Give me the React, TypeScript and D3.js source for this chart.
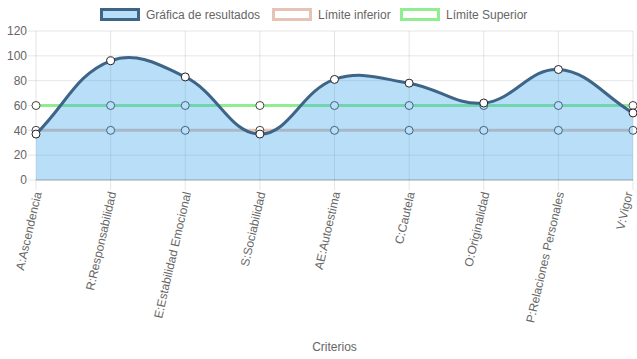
import { useMemo } from "react";
import * as d3 from "d3";

const categories = [
  "A:Ascendencia",
  "R:Responsabilidad",
  "E:Estabilidad Emocional",
  "S:Sociabilidad",
  "AE:Autoestima",
  "C:Cautela",
  "O:Originalidad",
  "P:Relaciones Personales",
  "V:Vigor",
];
const resultados = [37, 96, 83, 37, 81, 78, 62, 89, 54];
const limiteInferior = [40, 40, 40, 40, 40, 40, 40, 40, 40];
const limiteSuperior = [60, 60, 60, 60, 60, 60, 60, 60, 60];
const yTicks = [0, 20, 40, 60, 80, 100, 120];

const WIDTH = 637;
const HEIGHT = 359;
const LEFT = 36;
const RIGHT = 633;
const TOP = 31;
const BOTTOM = 180;
const FONT = "'Liberation Sans', Arial, sans-serif";
const TEXT = "#666";

const RES_STROKE = "#3e6488";
const RES_FILL = "rgba(54,162,235,0.35)";
const LOW_COLOR = "#e5c4b5";
const UP_COLOR = "#90ee90";

type Pt = [number, number];

// same bezier control points as chart.js (tension 0.4, capped to chart area)
function splinePath(pts: Pt[], t: number, close?: number) {
  const clampY = (v: number) => Math.max(TOP, Math.min(BOTTOM, v));
  const clampX = (v: number) => Math.max(LEFT, Math.min(RIGHT, v));
  const cps = pts.map((cur, i) => {
    const prev = pts[i - 1] ?? cur;
    const next = pts[i + 1] ?? cur;
    const d01 = Math.hypot(cur[0] - prev[0], cur[1] - prev[1]);
    const d12 = Math.hypot(next[0] - cur[0], next[1] - cur[1]);
    let s01 = d01 / (d01 + d12);
    let s12 = d12 / (d01 + d12);
    if (isNaN(s01)) s01 = 0;
    if (isNaN(s12)) s12 = 0;
    const fa = t * s01;
    const fb = t * s12;
    return {
      p: [clampX(cur[0] - fa * (next[0] - prev[0])), clampY(cur[1] - fa * (next[1] - prev[1]))],
      n: [clampX(cur[0] + fb * (next[0] - prev[0])), clampY(cur[1] + fb * (next[1] - prev[1]))],
    };
  });
  const p = d3.path();
  p.moveTo(pts[0][0], pts[0][1]);
  for (let i = 1; i < pts.length; i++) {
    p.bezierCurveTo(cps[i - 1].n[0], cps[i - 1].n[1], cps[i].p[0], cps[i].p[1], pts[i][0], pts[i][1]);
  }
  if (close !== undefined) {
    p.lineTo(pts[pts.length - 1][0], close);
    p.lineTo(pts[0][0], close);
    p.closePath();
  }
  return p.toString();
}

export default function App() {
  const x = useMemo(() => d3.scalePoint<string>().domain(categories).range([LEFT, RIGHT]), []);
  const y = useMemo(() => d3.scaleLinear().domain([0, 120]).range([BOTTOM, TOP]), []);

  const toPts = (vals: number[]): Pt[] => vals.map((v, i) => [x(categories[i])!, y(v)]);
  const resPts = toPts(resultados);
  const lowPts = toPts(limiteInferior);
  const upPts = toPts(limiteSuperior);

  const legend = [
    { label: "Gráfica de resultados", x: 100, fill: "rgba(54,162,235,0.35)", stroke: RES_STROKE },
    { label: "Límite inferior", x: 272, fill: "rgba(255,255,255,0.6)", stroke: LOW_COLOR },
    { label: "Límite Superior", x: 400, fill: "rgba(255,255,255,0.6)", stroke: UP_COLOR },
  ];

  return (
    <svg width={WIDTH} height={HEIGHT} style={{ position: "absolute", left: 0, top: 0 }} fontFamily={FONT}>
      {/* legend */}
      {legend.map((l) => (
        <g key={l.label}>
          <rect x={l.x + 1.5} y={9.5} width={37} height={10} fill={l.fill} stroke={l.stroke} strokeWidth={3} />
          <text x={l.x + 46} y={15} dy="0.35em" fontSize={12} fill={TEXT}>
            {l.label}
          </text>
        </g>
      ))}

      {/* grid */}
      {yTicks.map((t) => (
        <g key={t}>
          <line
            x1={t === 0 ? LEFT : 28}
            x2={RIGHT}
            y1={y(t)}
            y2={y(t)}
            stroke={t === 0 ? "rgba(0,0,0,0.18)" : "rgba(0,0,0,0.1)"}
            strokeWidth={t === 0 ? 2 : 1}
          />
          {t === 0 && <line x1={28} x2={LEFT} y1={y(t)} y2={y(t)} stroke="rgba(0,0,0,0.1)" />}
          <text x={27} y={y(t)} dy="0.35em" textAnchor="end" fontSize={12} fill={TEXT}>
            {t}
          </text>
        </g>
      ))}
      {categories.map((c) => (
        <line key={c} x1={x(c)} x2={x(c)} y1={TOP} y2={BOTTOM + 10} stroke="rgba(0,0,0,0.1)" />
      ))}

      {/* limits */}
      <path d={splinePath(upPts, 0.4)} fill="none" stroke={UP_COLOR} strokeWidth={3} />
      {upPts.map((p, i) => (
        <circle key={"u" + i} cx={p[0]} cy={p[1]} r={4} fill="#fff" stroke="#444" strokeWidth={1} />
      ))}
      <path d={splinePath(lowPts, 0.4)} fill="none" stroke={LOW_COLOR} strokeWidth={3} />
      {lowPts.map((p, i) => (
        <circle key={"l" + i} cx={p[0]} cy={p[1]} r={4} fill="#fff" stroke="#444" strokeWidth={1} />
      ))}

      {/* results */}
      <path d={splinePath(resPts, 0.4, y(0))} fill={RES_FILL} stroke="none" />
      <path d={splinePath(resPts, 0.4)} fill="none" stroke={RES_STROKE} strokeWidth={3} />
      {resPts.map((p, i) => (
        <circle key={"r" + i} cx={p[0]} cy={p[1]} r={4} fill="#fff" stroke="#222" strokeWidth={1} />
      ))}

      {/* x labels */}
      {categories.map((c) => (
        <text
          key={c}
          transform={`translate(${Math.min(x(c)! + 2, WIDTH - 8)},${BOTTOM + 12}) rotate(-77)`}
          textAnchor="end"
          dy="0.32em"
          fontSize={12}
          fill={TEXT}
        >
          {c}
        </text>
      ))}

      <text x={(LEFT + RIGHT) / 2} y={347} dy="0.35em" textAnchor="middle" fontSize={12} fill={TEXT}>
        Criterios
      </text>
    </svg>
  );
}
